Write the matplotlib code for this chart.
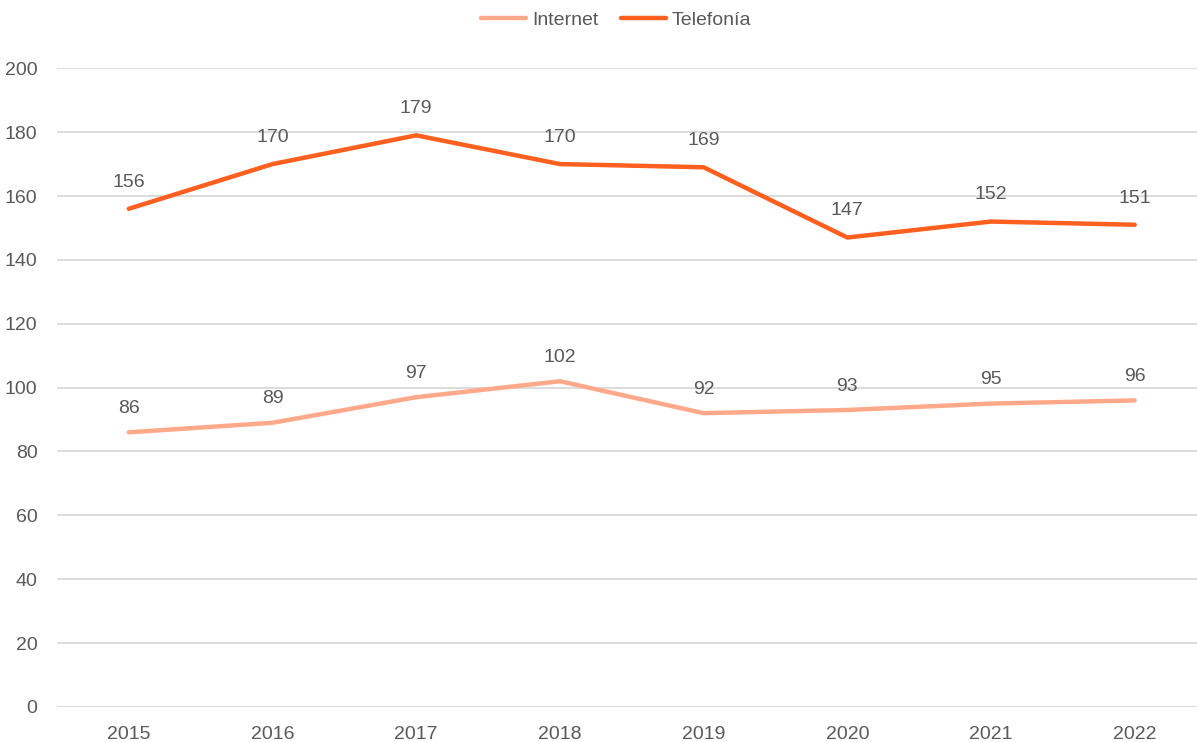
import matplotlib.pyplot as plt

years = ['2015', '2016', '2017', '2018', '2019', '2020', '2021', '2022']
internet = [86, 89, 97, 102, 92, 93, 95, 96]
telefonia = [156, 170, 179, 170, 169, 147, 152, 151]

plt.rcParams['font.family'] = ['Liberation Sans', 'DejaVu Sans']

fig = plt.figure(figsize=(11.97, 7.42), dpi=100)
ax = fig.add_axes([0.0476, 0.0472, 0.9604, 0.8608])

x = list(range(len(years)))
ax.plot(x, internet, color='#FFA98A', lw=3.2, label='Internet', solid_capstyle='round')
ax.plot(x, telefonia, color='#FF5F1F', lw=3.2, label='Telefonía', solid_capstyle='round')

for xi, v in zip(x, internet):
    ax.annotate(str(v), (xi, v), xytext=(0, 11), textcoords='offset points',
                ha='center', va='bottom', fontsize=14, color='#595959')
for xi, v in zip(x, telefonia):
    ax.annotate(str(v), (xi, v), xytext=(0, 13), textcoords='offset points',
                ha='center', va='bottom', fontsize=14, color='#595959')

ax.set_xlim(-0.5, 7.5)
ax.set_ylim(0, 200)
ax.set_yticks(range(0, 201, 20))
ax.set_xticks(x)
ax.set_xticklabels(years)
ax.grid(axis='y', color='#D9D9D9', lw=1.3)
ax.set_axisbelow(True)
for s in ax.spines.values():
    s.set_visible(False)
ax.tick_params(length=0, labelsize=14, labelcolor='#595959')
ax.tick_params(axis='y', pad=14)
ax.tick_params(axis='x', pad=14)

fig.legend(loc='center', bbox_to_anchor=(0.515, 0.973), ncol=2, frameon=False,
           fontsize=14, labelcolor='#595959', handlelength=2.3, columnspacing=1.2,
           handletextpad=0.3)

fig.savefig('out.png', dpi=100)
